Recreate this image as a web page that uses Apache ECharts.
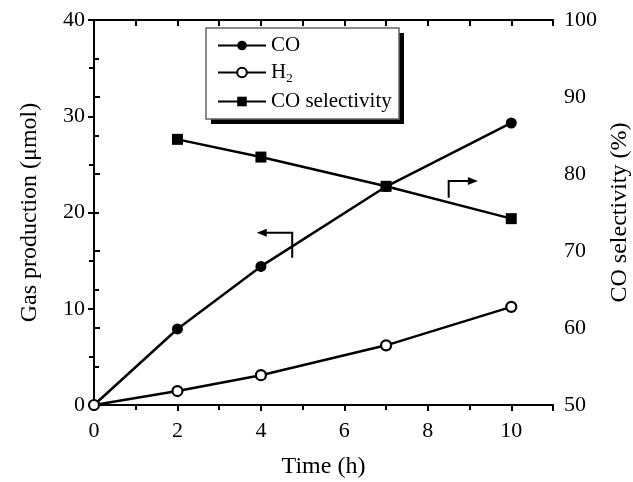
<!DOCTYPE html>
<html><head><meta charset="utf-8">
<script src="https://cdn.jsdelivr.net/npm/echarts@6/dist/echarts.min.js"></script>
<style>html,body{margin:0;padding:0;background:#fff}#c{width:633px;height:482px}</style>
</head><body><div id="c"></div>
<script>
const time = [0, 2, 4, 7, 10];
const coValues = [0, 7.9, 14.4, 22.7, 29.3];
const h2Values = [0, 1.45, 3.1, 6.2, 10.2];
const selTime = [2, 4, 7, 10];
const selValues = [84.5, 82.2, 78.4, 74.2];
const xTicks = [0, 2, 4, 6, 8, 10];

const F = 'Liberation Serif';
const chart = echarts.init(document.getElementById('c'));
const axisLine = {show: true, lineStyle: {color: '#000', width: 2}};
const tick = {show: true, length: 6, inside: false, lineStyle: {width: 2, color: '#000'}};
const minor = {show: true, splitNumber: 2, length: 5, lineStyle: {width: 2, color: '#000'}};
const option = {
  animation: false,
  grid: {left: 94, right: 80, top: 20, bottom: 77, outerBoundsMode: 'none', containLabel: false},
  legend: {
    orient: 'vertical', left: 207, top: 31, padding: [4, 10, 4, 10],
    itemWidth: 48, itemHeight: 12, itemGap: 6, z: 10,
    textStyle: {fontFamily: F, fontSize: 21, color: '#000',
      rich: {a: {fontFamily: F, fontSize: 21, color: '#000'}, s: {fontFamily: F, fontSize: 13, color: '#000', verticalAlign: 'bottom', padding: [12, 0, 0, 0]}}},
    formatter: n => n === 'H2' ? '{a|H}{s|2}' : n,
    data: ['CO', 'H2', 'CO selectivity']
  },
  xAxis: [{
    type: 'value', min: 0, max: 11, interval: 2,
    axisLine, axisTick: tick, minorTick: minor,
    splitLine: {show: false},
    axisLabel: {fontFamily: F, fontSize: 22, color: '#000', margin: 15, formatter: v => xTicks.includes(v) ? String(v) : ''},
    name: 'Time (h)', nameLocation: 'middle', nameGap: 50,
    nameTextStyle: {fontFamily: F, fontSize: 24, color: '#000'}
  }, {
    type: 'value', position: 'top', min: 0, max: 11, interval: 2,
    axisLine, axisTick: {show: true, inside: true, length: 6, lineStyle: {width: 2, color: '#000'}},
    minorTick: {show: true, splitNumber: 2, length: 6, lineStyle: {width: 2, color: '#000'}},
    splitLine: {show: false}, axisLabel: {show: false}
  }],
  yAxis: [{
    type: 'value', min: 0, max: 40, interval: 10,
    axisLine, axisTick: tick, minorTick: minor,
    splitLine: {show: false},
    axisLabel: {fontFamily: F, fontSize: 22, color: '#000', margin: 9},
    name: 'Gas production (\u03bcmol)', nameLocation: 'middle', nameGap: 52,
    nameTextStyle: {fontFamily: F, fontSize: 24, color: '#000'}
  }, {
    type: 'value', min: 50, max: 100, interval: 10, position: 'right',
    axisLine, axisTick: tick, minorTick: minor,
    splitLine: {show: false},
    axisLabel: {fontFamily: F, fontSize: 22, color: '#000', margin: 11},
    name: 'CO selectivity (%)', nameLocation: 'middle', nameGap: 53, nameRotate: 90,
    nameTextStyle: {fontFamily: F, fontSize: 24, color: '#000'}
  }],
  series: [{
    name: 'CO', type: 'line', data: time.map((t, i) => [t, coValues[i]]),
    symbol: 'circle', symbolSize: 11,
    lineStyle: {color: '#000', width: 2.5}, itemStyle: {color: '#000'}
  }, {
    name: 'H2', type: 'line', data: time.map((t, i) => [t, h2Values[i]]),
    symbol: 'circle', symbolSize: 10,
    lineStyle: {color: '#000', width: 2.5}, itemStyle: {color: '#fff', borderColor: '#000', borderWidth: 2.2}
  }, {
    name: 'CO selectivity', type: 'line', yAxisIndex: 1, data: selTime.map((t, i) => [t, selValues[i]]),
    symbol: 'rect', symbolSize: 11,
    lineStyle: {color: '#000', width: 2.5}, itemStyle: {color: '#000'}
  }]
};
chart.setOption(option);

// legend box + arrow annotations (arrows placed in data coordinates)
const p = (x, y, yi) => chart.convertToPixel({xAxisIndex: 0, yAxisIndex: yi}, [x, y]);
const a1 = p(4.75, 15.3, 0), a2 = p(4.75, 17.9, 0), a3 = p(3.9, 17.9, 0);
const b1 = p(8.5, 76.9, 1), b2 = p(8.5, 79.1, 1), b3 = p(9.2, 79.1, 1);
const ls = {stroke: '#000', lineWidth: 2, fill: null};
chart.setOption({graphic: [
  {id: 'shadow', type: 'rect', shape: {x: 211, y: 33, width: 193, height: 91}, style: {fill: '#000'}, z: 1},
  {id: 'box', type: 'rect', shape: {x: 206, y: 28, width: 193, height: 91}, style: {fill: '#fff', stroke: '#666', lineWidth: 1.5}, z: 2},
  {id: 'al', type: 'polyline', shape: {points: [a1, a2, [a3[0] + 8, a3[1]]]}, style: ls, z: 100},
  {id: 'ah', type: 'polygon', shape: {points: [[a3[0], a3[1]], [a3[0] + 10, a3[1] - 4], [a3[0] + 10, a3[1] + 4]]}, style: {fill: '#000'}, z: 100},
  {id: 'bl', type: 'polyline', shape: {points: [b1, b2, [b3[0] - 8, b3[1]]]}, style: ls, z: 100},
  {id: 'bh', type: 'polygon', shape: {points: [[b3[0], b3[1]], [b3[0] - 10, b3[1] - 4], [b3[0] - 10, b3[1] + 4]]}, style: {fill: '#000'}, z: 100}
]});
</script></body></html>
